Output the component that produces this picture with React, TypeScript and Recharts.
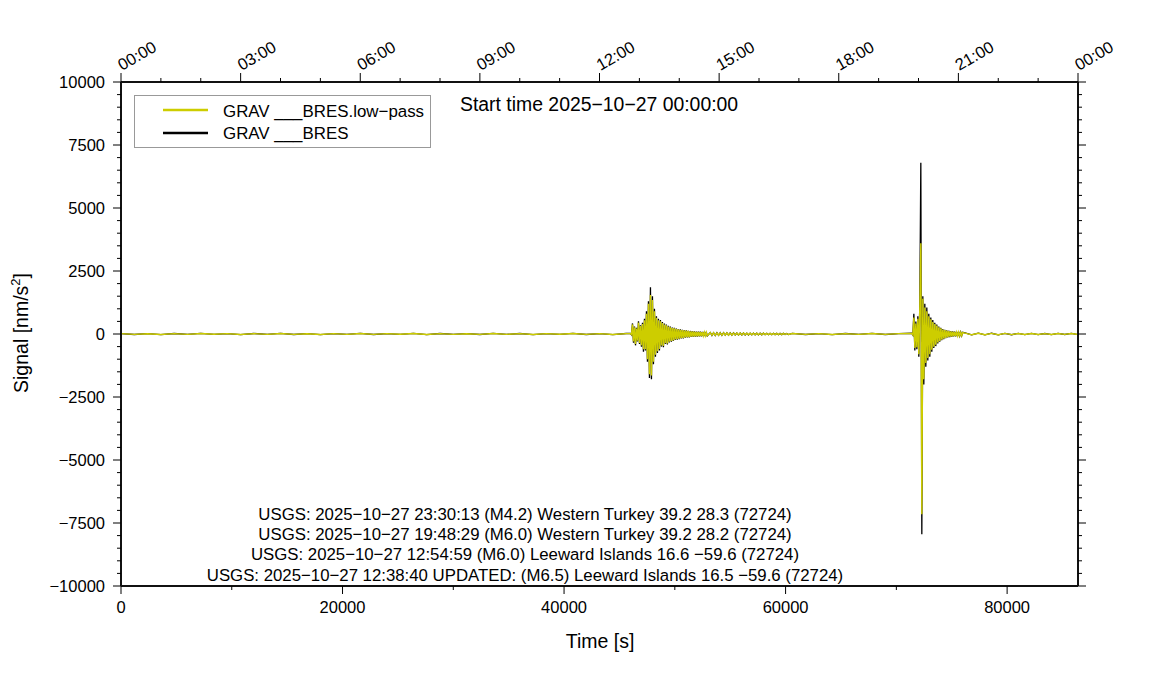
import { Line, LineChart, XAxis, YAxis } from 'recharts';

const FONT = '"Liberation Sans", Arial, Helvetica, sans-serif';
const YELLOW = '#cdcd00';

// axis ticks (seconds since start / nm/s^2)
const bottomTicks = [0, 10000, 20000, 30000, 40000, 50000, 60000, 70000, 80000];
const bottomLabels = ['0', '', '20000', '', '40000', '', '60000', '', '80000'];

const topTicks = [
  0, 3600, 7200, 10800, 14400, 18000, 21600, 25200, 28800, 32400, 36000, 39600, 43200,
  46800, 50400, 54000, 57600, 61200, 64800, 68400, 72000, 75600, 79200, 82800, 86400,
];
const topMajorTicks = [0, 10800, 21600, 32400, 43200, 54000, 64800, 75600, 86400];
const topLabels = ['00:00', '03:00', '06:00', '09:00', '12:00', '15:00', '18:00', '21:00', '00:00'];

const yTicks = [
  -10000, -9500, -9000, -8500, -8000, -7500, -7000, -6500, -6000, -5500, -5000, -4500, -4000,
  -3500, -3000, -2500, -2000, -1500, -1000, -500, 0, 500, 1000, 1500, 2000, 2500, 3000, 3500,
  4000, 4500, 5000, 5500, 6000, 6500, 7000, 7500, 8000, 8500, 9000, 9500, 10000,
];
const yMajorTicks = [-10000, -7500, -5000, -2500, 0, 2500, 5000, 7500, 10000];
const yLabels = ['−10000', '−7500', '−5000', '−2500', '0', '2500', '5000', '7500', '10000'];

const events = [
  'USGS: 2025−10−27 23:30:13 (M4.2) Western Turkey 39.2 28.3 (72724)',
  'USGS: 2025−10−27 19:48:29 (M6.0) Western Turkey 39.2 28.2 (72724)',
  'USGS: 2025−10−27 12:54:59 (M6.0) Leeward Islands 16.6 −59.6 (72724)',
  'USGS: 2025−10−27 12:38:40 UPDATED: (M6.5) Leeward Islands 16.5 −59.6 (72724)',
];

// record pieces: start time [s], sample interval [s]
const quietA = { start: 0, step: 1200 };
const event1 = { start: 46000, step: 90 };
const coda1 = { start: 53200, step: 150 };
const quietB = { start: 60600, step: 1200 };
const event2 = { start: 71400, step: 90 };
const coda2 = { start: 76200, step: 600 };

const bresQuietA = [
  18, -20, 15, -22, 20, -18, 24, -15, 18, -22, 20, -18, 22, -20, 15, -24, 18, -18, 22, -20,
  18, -15, 24, -22, 20, -18, 15, -20, 22, -18, 20, -24, 18, -15, 22, -20, 18, -22, 20,
];
const lowQuietA = [
  14, -16, 12, -18, 16, -14, 20, -12, 14, -18, 16, -14, 18, -16, 12, -20, 14, -14, 18, -16,
  14, -12, 20, -18, 16, -14, 12, -16, 18, -14, 16, -20, 14, -12, 18, -16, 14, -18, 16,
];

const bresEvent1 = [
  20, -30, 420, -350, 300, -450, 250, -300, 500, -400,
  350, -500, 450, -700, 600, -650, 900, -1100, 1300, -1750,
  1850, -1800, 1500, -1200, 1000, -900, 700, -750, 600, -650,
  550, -500, 480, -520, 420, -400, 380, -420, 330, -340,
  300, -310, 260, -280, 250, -240, 220, -230, 200, -210,
  190, -180, 170, -175, 160, -150, 150, -140, 130, -135,
  120, -115, 110, -110, 100, -105, 95, -100, 95, -90,
  90, -90, 85, -85, 80, -85, 80, -75,
];
const lowEvent1 = [
  15, -25, 380, -300, 270, -400, 220, -270, 450, -360,
  320, -450, 400, -600, 540, -600, 800, -1000, 1200, -1600,
  1550, -1650, 1350, -1100, 900, -820, 640, -680, 540, -590,
  500, -460, 440, -470, 380, -370, 350, -380, 300, -310,
  270, -280, 240, -255, 225, -220, 200, -210, 185, -190,
  170, -165, 155, -160, 145, -135, 135, -128, 120, -122,
  108, -105, 100, -100, 92, -95, 86, -90, 85, -82,
  80, -82, 76, -77, 72, -76, 70, -68,
];

const bresCoda1 = [
  60, -55, 52, -58, 50, -54, 48, -52, 50, -46, 45, -48, 42, -46, 44, -40, 40, -42, 38, -40,
  40, -36, 35, -38, 34, -36, 36, -32, 32, -34, 30, -32, 32, -28, 28, -30, 27, -28, 28, -25,
  25, -27, 24, -25, 25, -22, 22, -24,
];
const lowCoda1 = [
  54, -50, 47, -52, 45, -49, 43, -47, 45, -41, 40, -43, 38, -41, 40, -36, 36, -38, 34, -36,
  36, -32, 31, -34, 30, -32, 32, -29, 29, -30, 27, -29, 29, -25, 25, -27, 24, -25, 25, -22,
  22, -24, 21, -22, 22, -20, 20, -21,
];

const bresQuietB = [22, -20, 18, -22, 20, -18, 22, -20, 18];
const lowQuietB = [18, -16, 14, -18, 16, -14, 18, -16, 14];

const bresEvent2 = [
  30, -40, 800, -650, 500, -600, 700, -900, 1300, 6800,
  -7950, 1500, -2000, 1200, -1300, 1050, -1050, 800, -900, 650,
  -700, 550, -550, 450, -480, 380, -380, 300, -310, 250,
  -250, 200, -210, 170, -170, 150, -140, 130, -120, 110,
  -110, 100, -95, 90, -90, 80, -85, 80, -75, 70,
  -70, 65,
];
const lowEvent2 = [
  25, -35, 650, -550, 420, -520, 600, -800, 1100, 3600,
  -7150, 1400, -1800, 1050, -1150, 900, -950, 700, -800, 580,
  -620, 480, -500, 400, -430, 340, -340, 270, -280, 225,
  -225, 180, -190, 155, -155, 135, -125, 118, -108, 100,
  -100, 90, -86, 82, -80, 72, -76, 72, -68, 64,
  -64, 60,
];

const bresCoda2 = [40, -36, 34, -36, 30, -32, 28, -30, 24, -26, 22, -24, 20, -22, 22, -20, 24, -22];
const lowCoda2 = [36, -32, 30, -32, 26, -28, 24, -26, 20, -22, 18, -20, 16, -18, 18, -16, 20, -18];

type Piece = { start: number; step: number };

function toPoints(pieces: [Piece, number[]][]) {
  return pieces.flatMap(([p, vals]) => vals.map((v, i) => ({ t: p.start + i * p.step, v })));
}

const bresData = toPoints([
  [quietA, bresQuietA],
  [event1, bresEvent1],
  [coda1, bresCoda1],
  [quietB, bresQuietB],
  [event2, bresEvent2],
  [coda2, bresCoda2],
]);
const lowData = toPoints([
  [quietA, lowQuietA],
  [event1, lowEvent1],
  [coda1, lowCoda1],
  [quietB, lowQuietB],
  [event2, lowEvent2],
  [coda2, lowCoda2],
]);

const tickFont = { fontFamily: FONT, fontSize: 16.5, fill: '#000' };

function LeftTick(props: any) {
  const { x, y, payload } = props;
  const i = yMajorTicks.indexOf(payload.value);
  return (
    <g>
      <line x1={x - (i >= 0 ? 8 : 4)} x2={x} y1={y} y2={y} stroke="#000" />
      {i >= 0 && (
        <text x={x - 16} y={y} dy="0.36em" textAnchor="end" {...tickFont}>
          {yLabels[i]}
        </text>
      )}
    </g>
  );
}

function RightTick(props: any) {
  const { x, y, payload } = props;
  const major = yMajorTicks.includes(payload.value);
  return <line x1={x} x2={x + (major ? 8 : 4)} y1={y} y2={y} stroke="#000" />;
}

function BottomTick(props: any) {
  const { x, y, payload } = props;
  const i = bottomTicks.indexOf(payload.value);
  const label = i >= 0 ? bottomLabels[i] : '';
  return (
    <g>
      <line x1={x} x2={x} y1={y} y2={y + (label ? 8 : 4)} stroke="#000" />
      {label && (
        <text x={x} y={y + 27} textAnchor="middle" {...tickFont}>
          {label}
        </text>
      )}
    </g>
  );
}

function TopTick(props: any) {
  const { x, y, payload } = props;
  const i = topMajorTicks.indexOf(payload.value);
  const tx = x + 1;
  const ty = y - 11;
  return (
    <g>
      <line x1={x} x2={x} y1={y} y2={y - (i >= 0 ? 9 : 4)} stroke="#000" />
      {i >= 0 && (
        <text x={tx} y={ty} transform={`rotate(-30 ${tx} ${ty})`} {...tickFont}>
          {topLabels[i]}
        </text>
      )}
    </g>
  );
}

const frame = { stroke: '#111', strokeWidth: 2 };

export default function App() {
  return (
    <div style={{ position: 'absolute', left: 0, top: 0, width: 1151, height: 700, background: '#fff' }}>
      <LineChart width={1151} height={700} margin={{ top: 0, right: 0, bottom: 0, left: 0 }}>
        <XAxis
          xAxisId="bottom"
          type="number"
          dataKey="t"
          domain={[0, 86400]}
          ticks={bottomTicks}
          interval={0}
          height={114}
          tickSize={0}
          tickMargin={0}
          axisLine={frame}
          tick={<BottomTick />}
          allowDataOverflow
        />
        <XAxis
          xAxisId="top"
          orientation="top"
          type="number"
          dataKey="t"
          domain={[0, 86400]}
          ticks={topTicks}
          interval={0}
          height={82}
          tickSize={0}
          tickMargin={0}
          axisLine={frame}
          tick={<TopTick />}
          allowDataOverflow
        />
        <YAxis
          yAxisId="left"
          type="number"
          domain={[-10000, 10000]}
          ticks={yTicks}
          interval={0}
          width={121}
          tickSize={0}
          tickMargin={0}
          axisLine={frame}
          tick={<LeftTick />}
          allowDataOverflow
        />
        <YAxis
          yAxisId="right"
          orientation="right"
          type="number"
          domain={[-10000, 10000]}
          ticks={yTicks}
          interval={0}
          width={73}
          tickSize={0}
          tickMargin={0}
          axisLine={frame}
          tick={<RightTick />}
          allowDataOverflow
        />
        <Line
          xAxisId="bottom"
          yAxisId="left"
          data={bresData}
          dataKey="v"
          stroke="#000"
          strokeWidth={1.3}
          dot={false}
          isAnimationActive={false}
        />
        <Line
          xAxisId="bottom"
          yAxisId="left"
          data={lowData}
          dataKey="v"
          stroke={YELLOW}
          strokeWidth={1.4}
          dot={false}
          isAnimationActive={false}
        />
      </LineChart>

      <svg
        width={1151}
        height={700}
        style={{ position: 'absolute', left: 0, top: 0, pointerEvents: 'none' }}
        fontFamily={FONT}
      >
        {/* legend */}
        <rect x={134.5} y={95.5} width={296} height={52} fill="#fff" stroke="#999" />
        <line x1={163} x2={208} y1={110} y2={110} stroke={YELLOW} strokeWidth={2.5} />
        <line x1={163} x2={208} y1={133} y2={133} stroke="#000" strokeWidth={2.5} />
        <text x={223} y={116.5} fontSize={16.9}>GRAV ___BRES.low−pass</text>
        <text x={223} y={139} fontSize={16.9}>GRAV ___BRES</text>

        <text x={460} y={111} fontSize={19.4}>Start time 2025−10−27 00:00:00</text>

        {events.map((s, i) => (
          <text key={i} x={525} y={519.5 + i * 20.4} fontSize={16.8} textAnchor="middle">
            {s}
          </text>
        ))}

        <text x={600} y={648} fontSize={19.5} textAnchor="middle">Time [s]</text>
        <text x={28} y={333} fontSize={19.5} textAnchor="middle" transform="rotate(-90 28 333)">
          <tspan>Signal [nm/s</tspan>
          <tspan dy={-8} fontSize={13}>2</tspan>
          <tspan dy={8}>]</tspan>
        </text>
      </svg>
    </div>
  );
}
